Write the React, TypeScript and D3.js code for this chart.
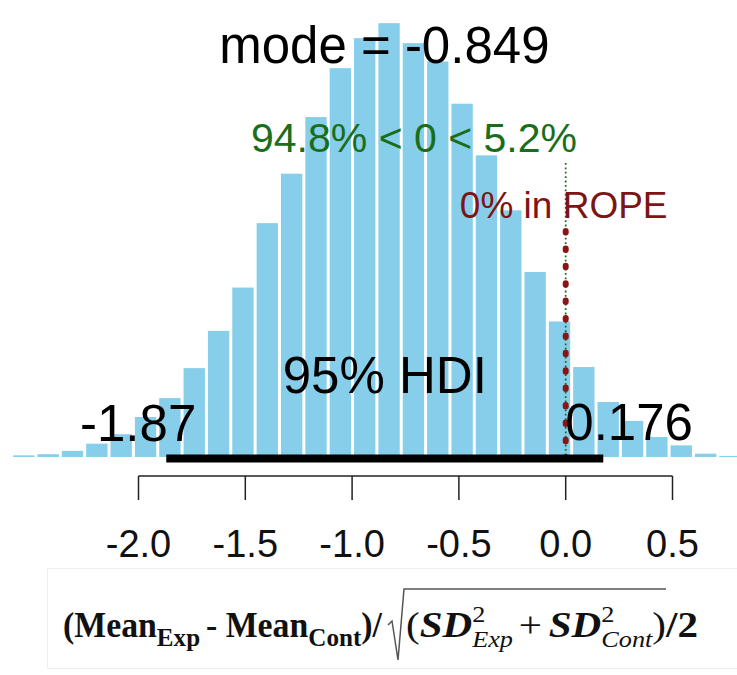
import React, { useEffect, useRef } from 'react';
import * as d3 from 'd3';

// histogram of posterior effect size (density per bin)
const binStart = -2.594;
const binWidth = 0.114;
const density = [
  0.003, 0.005, 0.011, 0.024, 0.041, 0.072, 0.106, 0.16, 0.227, 0.305,
  0.421, 0.51, 0.612, 0.7, 0.754, 0.781, 0.745, 0.712, 0.636, 0.543,
  0.444, 0.333, 0.244, 0.162, 0.099, 0.065, 0.036, 0.021, 0.006, 0.002,
];
const xTicks = [-2.0, -1.5, -1.0, -0.5, 0.0, 0.5];
const modeValue = -0.849;
const hdi = [-1.87, 0.176];
const compValue = 0;
const pctBelow = '94.8%';
const pctAbove = '5.2%';
const pctInRope = '0%';

const W = 737;
const H = 675;
const SANS = '"Liberation Sans", Arial, sans-serif';
const SERIF = '"Liberation Serif", "Times New Roman", serif';

const App = () => {
  const svgRef = useRef<SVGSVGElement>(null);

  useEffect(() => {
    if (!svgRef.current) return;
    const svg = d3.select(svgRef.current);
    svg.selectAll('*').remove();

    const x = d3.scaleLinear().domain([-2, 0.5]).range([138.5, 672.5]);
    const y = d3.scaleLinear().domain([0, 0.8]).range([457, 12.6]);

    const bins = density.map((d, i) => ({
      x0: binStart + i * binWidth,
      x1: binStart + (i + 1) * binWidth,
      d,
    }));

    svg.append('g')
      .selectAll('rect')
      .data(bins)
      .enter()
      .append('rect')
      .attr('x', b => x(b.x0) + 1.5)
      .attr('width', b => x(b.x1) - x(b.x0) - 3)
      .attr('y', b => y(b.d))
      .attr('height', b => y(0) - y(b.d))
      .attr('fill', '#87CEEB');

    // comparison value line (green, thin dotted)
    svg.append('line')
      .attr('x1', x(compValue)).attr('x2', x(compValue))
      .attr('y1', 163).attr('y2', y(0))
      .attr('stroke', '#1f6e1f')
      .attr('stroke-width', 1.8)
      .attr('stroke-dasharray', '1.8 2.6');

    // ROPE line (dark red, heavy dots)
    svg.append('line')
      .attr('x1', x(compValue)).attr('x2', x(compValue))
      .attr('y1', 231).attr('y2', y(0) + 2)
      .attr('stroke', '#8B1414')
      .attr('stroke-width', 6)
      .attr('stroke-linecap', 'round')
      .attr('stroke-dasharray', '1.5 15.9');

    // HDI bar
    svg.append('line')
      .attr('x1', x(hdi[0])).attr('x2', x(hdi[1]))
      .attr('y1', 458.5).attr('y2', 458.5)
      .attr('stroke', '#000')
      .attr('stroke-width', 8);

    // axis
    const axisY = 476;
    svg.append('line')
      .attr('x1', x(-2)).attr('x2', x(0.5))
      .attr('y1', axisY).attr('y2', axisY)
      .attr('stroke', '#222').attr('stroke-width', 1.5);
    svg.append('g')
      .selectAll('line')
      .data(xTicks)
      .enter()
      .append('line')
      .attr('x1', d => x(d)).attr('x2', d => x(d))
      .attr('y1', axisY).attr('y2', axisY + 24)
      .attr('stroke', '#222').attr('stroke-width', 1.5);
    svg.append('g')
      .selectAll('text')
      .data(xTicks)
      .enter()
      .append('text')
      .attr('x', d => x(d))
      .attr('y', 557)
      .attr('text-anchor', 'middle')
      .style('font-family', SANS)
      .style('font-size', '38px')
      .attr('fill', '#111')
      .text(d => d3.format('.1f')(d).replace('−', '-'));

    const label = (txt: string, tx: number, ty: number, size: number, color: string, anchor = 'middle') =>
      svg.append('text')
        .attr('x', tx).attr('y', ty)
        .attr('text-anchor', anchor)
        .style('font-family', SANS)
        .style('font-size', `${size}px`)
        .attr('fill', color)
        .text(txt);

    label(`mode = ${modeValue}`, x(modeValue), 63, 51, '#000');
    label(`${pctBelow} < ${compValue} < ${pctAbove}`, 414, 152, 41, '#1a6e1a');
    label(`${pctInRope} in ROPE`, x(compValue) - 2, 218, 37, '#7d1515');
    label('95% HDI', (x(hdi[0]) + x(hdi[1])) / 2, 393, 51, '#000');
    label(`${hdi[0]}`, x(hdi[0]) + 30, 441, 51, '#000', 'end');
    label(`${hdi[1]}`, x(hdi[1]) - 38, 440, 51, '#000', 'start');

    // faint frame of the formula panel
    svg.append('rect')
      .attr('x', 47.5).attr('y', 568.5)
      .attr('width', 700).attr('height', 100)
      .attr('fill', 'none')
      .attr('stroke', '#eeeeee');

    // x-axis formula
    const base = 637;
    const leftG = svg.append('g');
    const rightG = svg.append('g');
    let cx = 0;
    const piece = (g: any, t: string, size: number, dy: number, weight: string, italic: boolean, advance = true) => {
      const el = g.append('text')
        .attr('x', cx).attr('y', base + dy)
        .style('font-family', SERIF)
        .style('font-size', `${size}px`)
        .style('font-weight', weight)
        .style('font-style', italic ? 'italic' : 'normal')
        .attr('fill', '#111')
        .text(t);
      const w = (el.node() as SVGTextElement).getComputedTextLength();
      if (advance) cx += w;
      return w;
    };
    piece(leftG, '(Mean', 35, 0, 'bold', false);
    piece(leftG, 'Exp', 26, 9, 'bold', false);
    cx += 6;
    piece(leftG, '- Mean', 35, 0, 'bold', false);
    piece(leftG, 'Cont', 26, 9, 'bold', false);
    piece(leftG, ')/', 35, 0, 'bold', false);
    const leftW = cx;
    const lx0 = 63;
    const lx1 = 382;
    leftG.attr('transform', `translate(${lx0},0) scale(${(lx1 - lx0) / leftW},1)`);

    cx = 0;
    piece(rightG, '(', 36, 0, 'normal', false);
    piece(rightG, 'SD', 36, 0, 'bold', true);
    let w1 = piece(rightG, '2', 23, -15, 'normal', false, false);
    let w2 = piece(rightG, 'Exp', 23, 10, 'normal', true, false);
    cx += Math.max(w1, w2) + 5;
    piece(rightG, '+', 36, 0, 'normal', false);
    cx += 6;
    piece(rightG, 'SD', 36, 0, 'bold', true);
    w1 = piece(rightG, '2', 23, -15, 'normal', false, false);
    w2 = piece(rightG, 'Cont', 23, 10, 'normal', true, false);
    cx += Math.max(w1, w2);
    piece(rightG, ')', 36, 0, 'normal', false);
    const parenEnd = cx;
    piece(rightG, '/2', 36, 0, 'bold', false);
    const rightW = cx;
    const rx0 = 406;
    const rx1 = 698;
    const rs = (rx1 - rx0) / rightW;
    rightG.attr('transform', `translate(${rx0},0) scale(${rs},1)`);

    const sx = 388;
    const ex = rx0 + parenEnd * rs;
    svg.append('path')
      .attr('d', `M${sx},${base - 12} L${sx + 4},${base - 16} L${sx + 10},${base + 23} L${sx + 16},${base - 48} H${ex}`)
      .attr('fill', 'none')
      .attr('stroke', '#555')
      .attr('stroke-width', 1.5);
  }, []);

  return (
    <svg
      ref={svgRef}
      width={W}
      height={H}
      style={{ position: 'absolute', left: 0, top: 0, background: '#fff' }}
    />
  );
};

export default App;
